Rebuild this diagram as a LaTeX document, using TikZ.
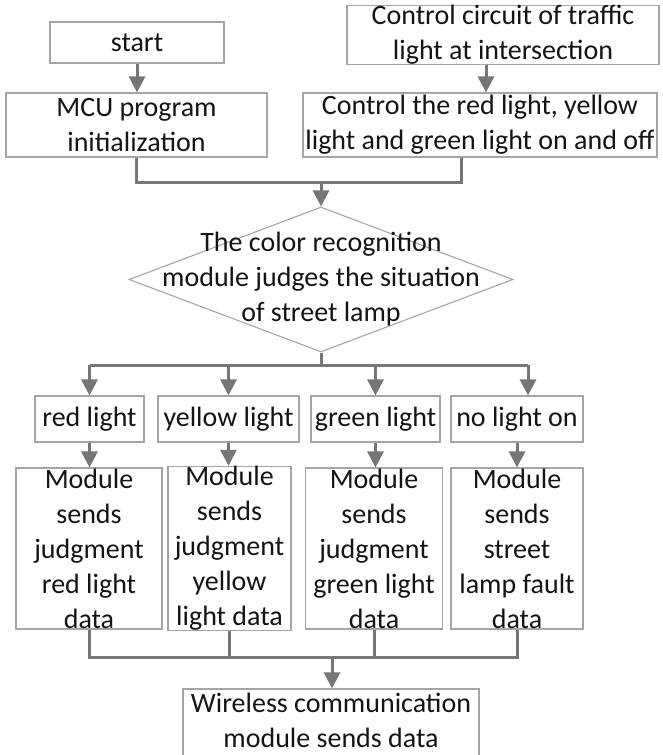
\documentclass[tikz,border=0pt]{standalone}
\usepackage{fontspec}
\setmainfont{Carlito}
\usetikzlibrary{arrows.meta,shapes.geometric}
\definecolor{boxline}{RGB}{165,165,165}
\definecolor{flow}{RGB}{118,118,118}
\definecolor{ink}{RGB}{20,20,20}
\tikzset{
  box/.style={draw=boxline, line width=1.1pt, fill=white, inner sep=0pt,
    align=center, text=ink, font=\fontsize{28}{35}\selectfont},
  plaintext/.style={inner sep=0pt, align=center, text=ink,
    font=\fontsize{28}{35}\selectfont},
  flowline/.style={draw=flow, line width=3pt},
  arr/.style={flowline, -{Triangle[width=16pt,length=16pt]}},
}
\begin{document}
\begin{tikzpicture}[x=1pt,y=-1pt]
\useasboundingbox (0,0) rectangle (662,755);

% top row
\node[box, minimum width=174pt, minimum height=41pt] (start) at (137,42.5) {start};
\node[box, minimum width=312pt, minimum height=58pt] (ctrl1) at (503,35)
  {Control circuit of traffic\\light at intersection};
\node[box, minimum width=261pt, minimum height=64pt] (mcu) at (136.5,125)
  {MCU program\\initialization};
\node[box, minimum width=354pt, minimum height=64pt] (ctrl2) at (480,125)
  {Control the red light, yellow\\light and green light on and off};

% decision
\node[diamond, draw=boxline, line width=1.1pt, fill=white, inner sep=0pt,
  minimum width=384pt, minimum height=145pt] (decide) at (321,279.5) {};
\node[plaintext] (decidetext) at (decide.center)
  {The color recognition\\module judges the situation\\of street lamp};

% light states
\node[box, minimum width=109pt, minimum height=46pt] (red) at (89.5,419) {red light};
\node[box, minimum width=141pt, minimum height=46pt] (yellow) at (228.5,419) {yellow light};
\node[box, minimum width=129pt, minimum height=46pt] (green) at (375.5,419) {green light};
\node[box, minimum width=132pt, minimum height=46pt] (nolight) at (517,419) {no light on};

% module actions
\node[box, minimum width=146pt, minimum height=161pt] (mred) at (89,548.5)
  {Module\\sends\\judgment\\red light\\data};
\node[box, minimum width=123pt, minimum height=161pt] (myel) at (229.5,548.5)
  {Module\\sends\\judgment\\yellow\\light data};
\node[box, minimum width=136.5pt, minimum height=161pt] (mgreen) at (374,548.5)
  {Module\\sends\\judgment\\green light\\data};
\node[box, minimum width=132pt, minimum height=161pt] (mno) at (517,548.5)
  {Module\\sends\\street\\lamp fault\\data};

% final step: the box runs past the lower edge of the page
\node[box, minimum width=296pt, minimum height=71pt] (wireless) at (331,724.5) {};
\node[plaintext] (wirelesstext) at (331,720)
  {Wireless communication\\module sends data};

% connectors
\draw[arr] (start.south) -- (start.south |- mcu.north);
\draw[arr] ([xshift=-17pt]ctrl1.south) -- ([xshift=-17pt]ctrl1.south |- ctrl2.north);

\coordinate (j1) at (321,182);
\draw[flowline] (mcu.south) |- (j1);
\draw[flowline] ([xshift=-18.5pt]ctrl2.south) |- (j1);
\draw[arr] (j1) -- (decide.north);

\coordinate (j2) at (321,365);
\draw[flowline] (decide.south) -- (j2);
\draw[flowline] (j2 -| red.north) -- ([xshift=11pt]nolight.north |- j2);
\draw[arr] (j2 -| red.north) -- (red.north);
\draw[arr] (j2 -| yellow.north) -- (yellow.north);
\draw[arr] (j2 -| green.north) -- (green.north);
\draw[arr] ([xshift=11pt]nolight.north |- j2) -- ([xshift=11pt]nolight.north);

\draw[arr] (red.south) -- (red.south |- mred.north);
\draw[arr] (yellow.south) -- (yellow.south |- myel.north);
\draw[arr] (green.south) -- (green.south |- mgreen.north);
\draw[arr] (nolight.south) -- (nolight.south |- mno.north);

\coordinate (j3) at (332,657);
\draw[flowline] (mred.south) |- (j3);
\draw[flowline] (mno.south) |- (j3);
\draw[flowline] (myel.south) -- (myel.south |- j3);
\draw[flowline] (mgreen.south) -- (mgreen.south |- j3);
\draw[arr] (j3) -- (j3 |- wireless.north);
\end{tikzpicture}
\end{document}
